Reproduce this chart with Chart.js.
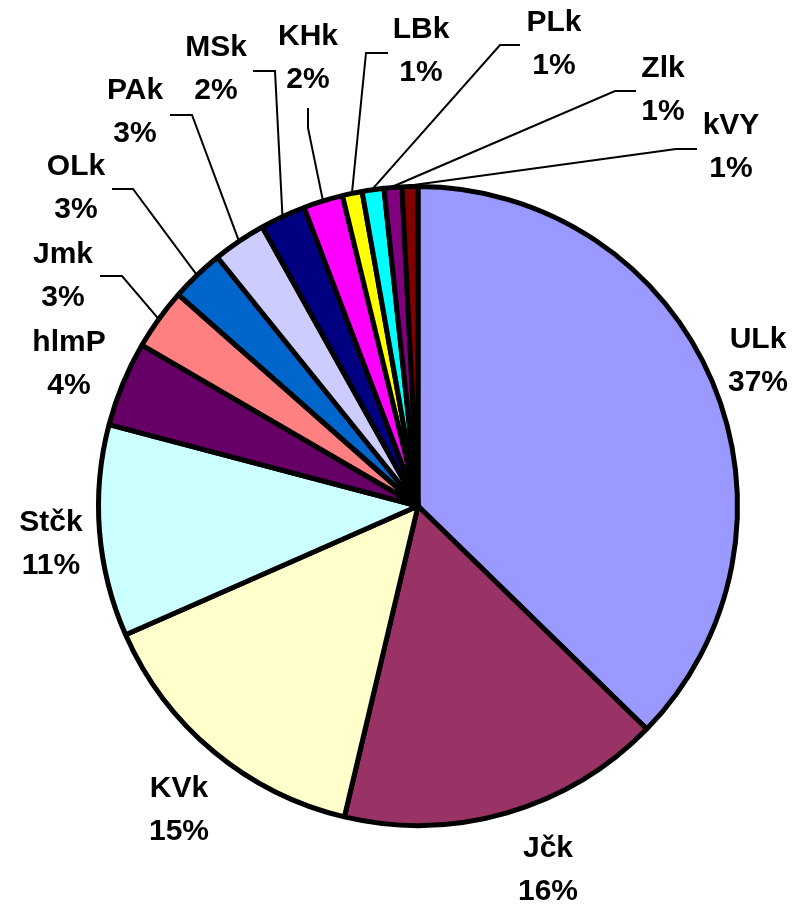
<!DOCTYPE html>
<html>
<head>
<meta charset="utf-8">
<script src="https://cdn.jsdelivr.net/npm/chart.js@4.4.1/dist/chart.umd.min.js"></script>
<style>
  html, body { margin: 0; padding: 0; background: #ffffff; }
  #wrap { width: 794px; height: 908px; position: relative; }
</style>
</head>
<body>
<div id="wrap"><canvas id="pieChart" width="794" height="908"></canvas></div>
<script>
// ===== DATA =====
const regions = ['ULk', 'Jčk', 'KVk', 'Stčk', 'hlmP', 'Jmk', 'OLk', 'PAk', 'MSk', 'KHk', 'LBk', 'PLk', 'Zlk', 'kVY'];
const shares = [37.3, 16.4, 14.7, 10.7, 4.3, 3.1, 2.7, 2.7, 2.3, 2.0, 1.0, 1.1, 0.9, 0.8];
const sliceColors = ['#9999FF', '#993366', '#FFFFCC', '#CCFFFF', '#660066', '#FF8080', '#0066CC',
                     '#CCCCFF', '#000080', '#FF00FF', '#FFFF00', '#00FFFF', '#800080', '#800000'];

// label placement, offsets from pie centre (text block centre; leader elbow + tick end)
const labelPos = [
    [340, -145], [130, 364], [-239, 304], [-367, 38], [-349, -142], [-355, -230], [-342, -318],
    [-283, -394], [-202, -437], [-110, -448], [3, -455], [136, -462], [245, -416], [313, -359]
];
const leaders = [
    null, null, null, null, null,
    [-296, -230, -318, -230],
    [-285, -317, -306, -317],
    [-226, -391, -248, -391],
    [-143, -435, -165, -435],
    [-110, -378, -110, -398],
    [-52, -453, -30, -453],
    [82, -461, 102, -461],
    [197, -415, 218, -415],
    [258, -357, 279, -357]
];

const labelPlugin = {
    id: 'pieLabels',
    afterDatasetsDraw(chart) {
        const ctx = chart.ctx;
        const meta = chart.getDatasetMeta(0);
        const total = shares.reduce((a, b) => a + b, 0);
        ctx.save();
        ctx.font = 'bold 30px "Liberation Sans", Arial, sans-serif';
        ctx.fillStyle = '#000';
        ctx.strokeStyle = '#000';
        ctx.lineWidth = 2;
        ctx.textAlign = 'center';
        ctx.textBaseline = 'middle';
        meta.data.forEach(function(arc, i) {
            const p = arc.getProps(['x', 'y', 'startAngle', 'endAngle', 'outerRadius'], true);
            const mid = (p.startAngle + p.endAngle) / 2;
            const lead = leaders[i];
            if (lead) {
                const ex = p.x + Math.cos(mid) * (p.outerRadius + 1);
                const ey = p.y + Math.sin(mid) * (p.outerRadius + 1);
                ctx.beginPath();
                ctx.moveTo(ex, ey);
                ctx.lineTo(p.x + lead[0], p.y + lead[1]);
                ctx.lineTo(p.x + lead[2], p.y + lead[3]);
                ctx.stroke();
            }
            const lx = p.x + labelPos[i][0];
            const ly = p.y + labelPos[i][1];
            const pct = Math.round(shares[i] / total * 100) + '%';
            ctx.fillText(regions[i], lx, ly - 21);
            ctx.fillText(pct, lx, ly + 22);
        });
        ctx.restore();
    }
};

const pieCtx = document.getElementById('pieChart');
new Chart(pieCtx, {
    type: 'pie',
    data: {
        labels: regions,
        datasets: [{
            data: shares,
            backgroundColor: sliceColors,
            borderColor: '#000000',
            borderWidth: 5
        }]
    },
    options: {
        responsive: false,
        animation: false,
        layout: { padding: { left: 96, right: 54, top: 184, bottom: 80 } },
        plugins: {
            legend: { display: false },
            tooltip: { enabled: false }
        }
    },
    plugins: [labelPlugin]
});
</script>
</body>
</html>
